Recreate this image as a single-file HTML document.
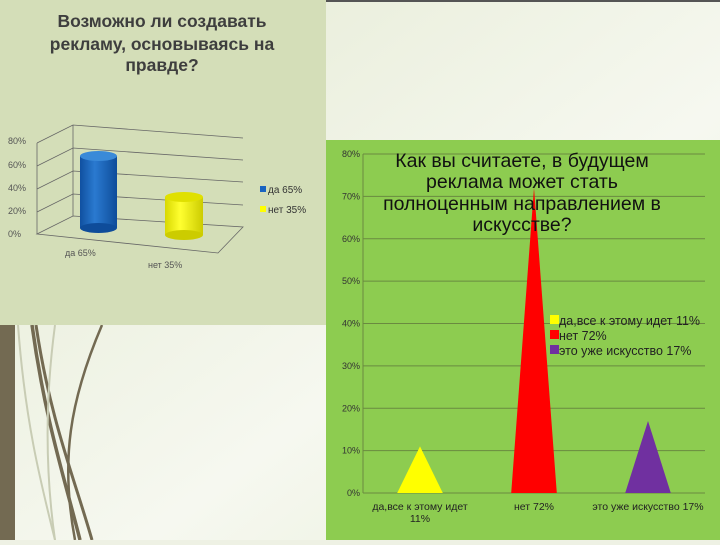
<!DOCTYPE html>
<html><head><meta charset="utf-8"><style>
body{margin:0;width:720px;height:540px;overflow:hidden;background:#eef1e4;font-family:"Liberation Sans","DejaVu Sans",sans-serif}
</style></head><body>
<svg width="720" height="540" viewBox="0 0 720 540" xmlns="http://www.w3.org/2000/svg">
<defs>
<linearGradient id="bg" x1="0" y1="0" x2="1" y2="1"><stop offset="0" stop-color="#e4ead2"/><stop offset="0.6" stop-color="#f6f8f0"/><stop offset="1" stop-color="#e8eed8"/></linearGradient>
<linearGradient id="blue" x1="0" x2="1"><stop offset="0" stop-color="#1050a0"/><stop offset="0.4" stop-color="#2a7ad0"/><stop offset="1" stop-color="#0e4c9a"/></linearGradient>
<linearGradient id="yel" x1="0" x2="1"><stop offset="0" stop-color="#d8d800"/><stop offset="0.4" stop-color="#ffff30"/><stop offset="1" stop-color="#cccc00"/></linearGradient>
</defs>
<rect width="720" height="540" fill="url(#bg)"/>
<rect x="0" y="0" width="720" height="2" fill="#555"/>
<g>
<rect x="0" y="325" width="15" height="215" fill="#736a52"/>
<path d="M32 325 C45 420 65 480 80 540" stroke="#736a52" stroke-width="3.5" fill="none"/>
<path d="M36 325 C50 420 75 480 92 540" stroke="#736a52" stroke-width="3" fill="none"/>
<path d="M102 325 C70 400 60 460 75 540" stroke="#736a52" stroke-width="2.5" fill="none"/>
<path d="M18 325 C25 420 40 480 55 540" stroke="#c8ccb4" stroke-width="2" fill="none"/>
<path d="M55 325 C45 400 45 470 55 540" stroke="#c8ccb4" stroke-width="2" fill="none"/>
</g>
<rect x="0" y="0" width="326" height="325" fill="#d4deb8"/>
<g font-weight="bold" font-size="17.5" fill="#3e3e3e" text-anchor="middle">
<text x="162" y="27">Возможно ли создавать</text>
<text x="162" y="50">рекламу, основываясь на</text>
<text x="162" y="71">правде?</text>
</g>
<g stroke="#666" stroke-width="0.8" fill="none">
<path d="M37 143 L73 125 L243 138"/><path d="M37 166 L73 148 L243 160"/><path d="M37 189 L73 171 L243 182"/><path d="M37 212 L73 194 L243 205"/>
<path d="M37 234 L73 216 L243 227 L218 253 Z"/><path d="M37 143 L37 234"/><path d="M73 125 L73 216"/>
</g>
<g font-size="9" fill="#555">
<text x="8" y="144">80%</text><text x="8" y="168">60%</text><text x="8" y="191">40%</text><text x="8" y="214">20%</text><text x="8" y="237">0%</text>
</g>
<g>
<rect x="80" y="156" width="37" height="72" fill="url(#blue)"/><ellipse cx="98.5" cy="228" rx="18.5" ry="5" fill="#0e4c9a"/><ellipse cx="98.5" cy="156" rx="18.5" ry="5" fill="#3a8ad8"/>
<rect x="165" y="197" width="38" height="38" fill="url(#yel)"/><ellipse cx="184" cy="235" rx="19" ry="5" fill="#cccc00"/><ellipse cx="184" cy="197" rx="19" ry="5" fill="#e0e000"/>
</g>
<g font-size="10" fill="#333">
<rect x="260" y="186" width="6" height="6" fill="#1a64c0"/><text x="268" y="193">да 65%</text>
<rect x="260" y="206" width="6" height="6" fill="#ffff00"/><text x="268" y="213">нет 35%</text>
</g>
<g font-size="9" fill="#555"><text x="65" y="256">да 65%</text><text x="148" y="268">нет 35%</text></g>
<rect x="326" y="140" width="394" height="400" fill="#8dcc50"/>
<g id="plot"></g>
<g font-size="19.5" fill="#111" text-anchor="middle">
<text x="522" y="167">Как вы считаете, в будущем</text>
<text x="522" y="188">реклама может стать</text>
<text x="522" y="210">полноценным  направлением в</text>
<text x="522" y="231">искусстве?</text>
</g>
<g font-size="12.5" fill="#222">
<rect x="550" y="315" width="9" height="9" fill="#ffff00"/><text x="559" y="325">да,все к этому идет 11%</text>
<rect x="550" y="330" width="9" height="9" fill="#ff0000"/><text x="559" y="340">нет 72%</text>
<rect x="550" y="345" width="9" height="9" fill="#7030a0"/><text x="559" y="355">это уже искусство 17%</text>
</g>
</svg>
<script>
const categories=["да,все к этому идет 11%","нет 72%","это уже искусство 17%"];
const values=[11,72,17];
const colors=["#ffff00","#ff0000","#7030a0"];
const ticks=[0,10,20,30,40,50,60,70,80];
const NS="http://www.w3.org/2000/svg";
const g=document.getElementById('plot');
const x0=363,x1=705,y0=493,ymax=80,yTop=154;
const y=v=>y0-(v/ymax)*(y0-yTop);
const bw=(x1-x0)/categories.length;
const xc=i=>x0+bw*(i+0.5);
function mk(t,a){const e=document.createElementNS(NS,t);for(const k in a)e.setAttribute(k,a[k]);g.appendChild(e);return e;}
ticks.forEach(t=>{
 const l=mk('line',{x1:x0,x2:x1,y1:y(t),y2:y(t),stroke:'#6a8a40','stroke-width':1});
 
 
 const tx=mk('text',{x:x0-3,y:y(t)+3,'font-size':9,fill:'#333','text-anchor':'end'});
 tx.textContent=t+'%';
 
 
});
const ax=mk('line',{x1:x0,x2:x0,y1:yTop,y2:y0,stroke:'#6a8a40'});


values.forEach((v,i)=>{
 const c=xc(i),hw=bw*0.2;
 const p=mk('polygon',{points:`${c-hw},${y0} ${c},${y(v)} ${c+hw},${y0}`,fill:colors[i]});
 
 
});
categories.forEach((cat,i)=>{
 const t=mk('text',{x:xc(i),y:y0+17,'font-size':10.5,fill:'#222','text-anchor':'middle'});
 if(i===0){t.textContent='да,все к этому идет';const t2=mk('text',{x:xc(i),y:y0+29,'font-size':10.5,fill:'#222','text-anchor':'middle'});t2.textContent='11%';
 
 }
 else t.textContent=cat;
 
 
});
</script>
</body></html>
